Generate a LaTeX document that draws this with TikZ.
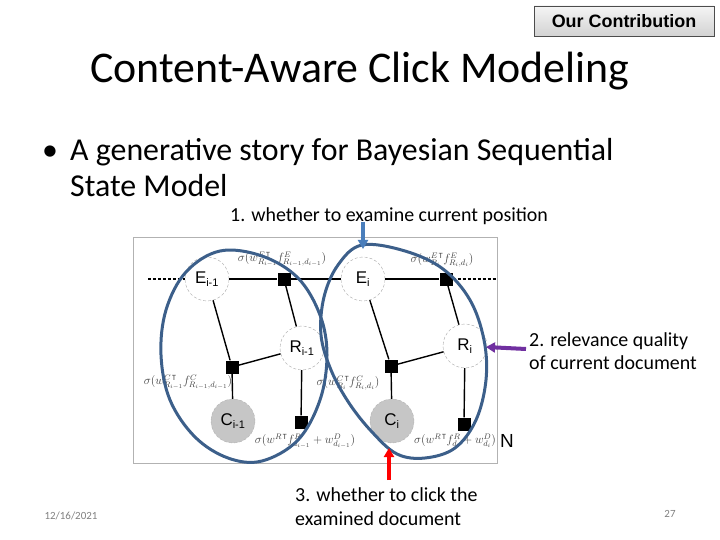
\documentclass[tikz,border=0pt]{standalone}
\usepackage{fontspec}
\setmainfont{Carlito}
\newfontfamily\arialf{Liberation Sans}
\usetikzlibrary{arrows.meta,shapes.geometric}
\definecolor{ellblue}{HTML}{3C5F8A}
\definecolor{arrblue}{HTML}{4A7EBB}
\definecolor{arrpurple}{HTML}{7030A0}
\definecolor{arrred}{HTML}{FF0000}
\tikzset{
  rv/.style={circle,draw=gray!70,densely dashed,minimum size=44bp,inner sep=0pt,font=\arialf\fontsize{17}{17}\selectfont},
  obs/.style={rv,fill=gray!45,draw=gray!60},
  fac/.style={rectangle,fill=black,minimum size=13bp,inner sep=0pt},
  edge/.style={line width=1.4bp},
  ell/.style={draw=ellblue,line width=3bp},
  lab/.style={font=\fontsize{12}{12}\selectfont,text=black!75,inner sep=0pt},
  call/.style={-{Triangle[length=9bp,width=10bp]},line width=4bp},
  ann/.style={font=\fontsize{20}{20}\selectfont,anchor=base west,inner sep=0pt},
  big/.style={font=\fontsize{32}{32}\selectfont,anchor=base west,inner sep=0pt},
}
\begin{document}
\begin{tikzpicture}[x=1bp,y=-1bp]
\useasboundingbox (0,0) rectangle (720,540);
% header box
\node[draw=black!70,line width=0.8bp,top color=gray!8,bottom color=gray!35,minimum width=180bp,minimum height=30bp,inner sep=0pt,font=\arialf\bfseries\fontsize{18}{18}\selectfont] (contrib) at (624,21) {Our Contribution};
% title
\node[font=\fontsize{44}{44}\selectfont,inner sep=0pt,anchor=base] (title) at (360,83) {Content-Aware Click Modeling};
% bullet
\node[font=\fontsize{32}{32}\selectfont,anchor=base,inner sep=0pt] (bul) at (50,161) {\textbullet};
\node[big] (b1) at (70,161) {A generative story for Bayesian Sequential};
\node[big] (b2) at (70,197) {State Model};
% annotations
\node[ann] (ann1) at (230,222) {1. whether to examine current position};
\node[ann] (ann2a) at (529,346) {2. relevance quality};
\node[ann] (ann2b) at (529,369) {of current document};
\node[ann] (ann3a) at (295,501) {3. whether to click the};
\node[ann] (ann3b) at (295,525) {examined document};
% footer
\node[font=\fontsize{11}{11}\selectfont,text=gray,inner sep=0pt] (date) at (71,516) {12/16/2021};
\node[font=\fontsize{11}{11}\selectfont,text=gray,inner sep=0pt] (page) at (670,514) {27};
% frame
\draw[gray!60,line width=1bp] (133,238) rectangle (497,463);
% nodes
\node[rv] (E1) at (207,279) {E\textsubscript{\fontsize{11}{11}\selectfont i-1}};
\node[rv] (E2) at (363,279) {E\textsubscript{\fontsize{11}{11}\selectfont i}};
\node[rv] (R1) at (302,348) {R\textsubscript{\fontsize{11}{11}\selectfont i-1}};
\node[rv] (R2) at (465,346) {R\textsubscript{\fontsize{11}{11}\selectfont i}};
\node[obs] (C1) at (233,421) {C\textsubscript{\fontsize{11}{11}\selectfont i-1}};
\node[obs] (C2) at (392,421) {C\textsubscript{\fontsize{11}{11}\selectfont i}};
\node[fac] (fe1) at (284,279) {};
\node[fac] (fe2) at (446,279) {};
\node[fac] (fc1) at (232,367) {};
\node[fac] (fc2) at (391,366) {};
\node[fac] (fr1) at (301,422) {};
\node[fac] (fr2) at (464,424) {};
\coordinate (dl) at (148,279);
\coordinate (dr) at (497,279);
% edges
\draw[edge,densely dashed] (dl) -- (E1);
\draw[edge] (E1) -- (fe1) -- (E2) -- (fe2);
\draw[edge,densely dashed] (fe2) -- (dr);
\draw[edge] (fe1) -- (R1);
\draw[edge] (fe2) -- (R2);
\draw[edge] (E1) -- (fc1);
\draw[edge] (R1) -- (fc1);
\draw[edge] (fc1) -- (C1);
\draw[edge] (E2) -- (fc2);
\draw[edge] (R2) -- (fc2);
\draw[edge] (fc2) -- (C2);
\draw[edge] (R1) -- (fr1);
\draw[edge] (R2) -- (fr2);
% factor labels
\node[lab] (l1) at (282,259) {$\sigma(w^{E\,\mathrm{T}}_{R_{i-1}} f^{E}_{R_{i-1},d_{i-1}})$};
\node[lab] (l2) at (442,260) {$\sigma(w^{E\,\mathrm{T}}_{R_{i}} f^{E}_{R_{i},d_{i}})$};
\node[lab] (l3) at (188,382) {$\sigma(w^{C\,\mathrm{T}}_{R_{i-1}} f^{C}_{R_{i-1},d_{i-1}})$};
\node[lab] (l4) at (348,383) {$\sigma(w^{C\,\mathrm{T}}_{R_{i}} f^{C}_{R_{i},d_{i}})$};
\node[lab] (l5) at (305,441) {$\sigma(w^{R\,\mathrm{T}} f^{R}_{d_{i-1}} + w^{D}_{d_{i-1}})$};
\node[lab] (l6) at (455,441) {$\sigma(w^{R\,\mathrm{T}} f^{R}_{d_{i}} + w^{D}_{d_{i}})$};
\node[font=\arialf\fontsize{19}{19}\selectfont,inner sep=0pt] (N) at (507,441) {N};
% hand-drawn ellipses
\draw[ell] plot[smooth cycle,tension=0.6] coordinates {(220,251) (262,256) (298,278) (320,315) (327,355) (320,400) (298,440) (262,461) (228,458) (195,437) (170,400) (161,355) (166,310) (186,272)};
\draw[ell] plot[smooth cycle,tension=0.6] coordinates {(362,245) (405,251) (443,269) (470,300) (484,340) (486,380) (476,420) (455,448) (425,458) (397,454) (372,432) (349,403) (331,370) (321,335) (324,297) (338,265)};
% callout arrows
\coordinate (a1s) at (363,222);
\coordinate (a1e) at (363,249);
\draw[call,arrblue] (a1s) -- (a1e);
\coordinate (a2s) at (526,349);
\coordinate (a2e) at (486,347);
\draw[call,arrpurple] (a2s) -- (a2e);
\coordinate (a3s) at (389,480);
\coordinate (a3e) at (389,448);
\draw[call,arrred] (a3s) -- (a3e);
\end{tikzpicture}
\end{document}
